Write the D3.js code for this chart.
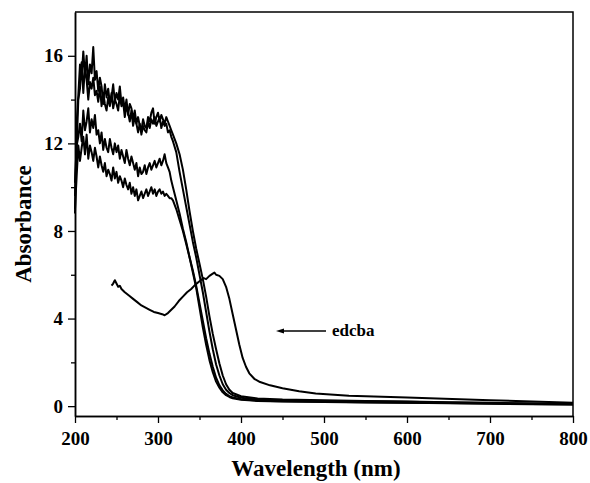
<!DOCTYPE html>
<html>
<head>
<meta charset="utf-8">
<script src="https://cdn.jsdelivr.net/npm/d3@7"></script>
<style>
  html, body { margin: 0; padding: 0; background: #fff; }
  svg { display: block; }
  text { font-family: "Liberation Serif", "Times New Roman", serif; font-weight: bold; fill: #000; }
</style>
</head>
<body>
<svg id="chart" width="590" height="483"></svg>
<script>
// Wavelength grid (nm) shared by spectra a–d
const wavelengths = [
  200, 202, 204, 206, 208, 210, 212, 214, 216, 218,
  220, 222, 224, 226, 228, 230, 232, 234, 236, 238,
  240, 242, 244, 246, 248, 250, 252, 254, 256, 258,
  260, 262, 264, 266, 268, 270, 272, 274, 276, 278,
  280, 282, 284, 286, 288, 290, 292, 294, 296, 298,
  300, 302, 304, 306, 308, 310, 312, 314, 316,
  318, 322, 326, 330, 334, 338, 342, 346, 350, 354,
  358, 362, 366, 370, 374, 378, 382, 386, 390, 400,
  420, 450, 500, 550, 600, 650, 700, 750, 800
];

const absA = [
  8.8, 12.9, 14.2, 15.6, 15.0, 16.2, 15.1, 16.0, 14.7, 15.6,
  15.2, 16.4, 14.9, 15.3, 14.4, 15.0, 14.6, 13.8, 14.7, 14.1,
  14.5, 13.8, 14.1, 14.7, 13.9, 14.3, 14.0, 14.6, 13.8, 14.1,
  13.5, 14.0, 13.3, 13.8, 13.6, 13.1, 13.5, 12.9, 13.2, 12.8,
  12.6, 13.1, 12.8, 12.7, 13.2, 13.0, 13.4, 13.6, 12.9, 13.2,
  13.4, 13.0, 13.3, 13.1, 12.9, 13.2, 13.0, 12.8, 12.6,
  12.4, 12.0, 11.5, 10.8, 9.9, 8.9, 8.0, 7.2, 6.5, 5.8,
  5.0, 4.1, 3.3, 2.6, 1.95, 1.4, 1.0, 0.75, 0.6, 0.45,
  0.35, 0.3, 0.27, 0.24, 0.21, 0.18, 0.15, 0.12, 0.1
];

const absB = [
  9.6, 11.8, 14.0, 14.5, 15.7, 14.3, 15.5, 14.9, 14.0, 14.8,
  14.5, 15.0, 14.2, 14.4, 13.9, 14.6, 13.7, 14.3, 13.8, 13.5,
  14.1, 13.7, 14.3, 13.6, 14.0, 13.8, 13.5, 14.2, 13.7, 13.9,
  13.2, 13.7, 13.4, 13.0, 13.5, 12.8, 13.2, 12.9, 12.5, 12.9,
  12.4, 12.8, 12.6, 12.5, 13.0, 12.7, 13.1, 12.9, 13.2, 12.8,
  13.0, 13.2, 12.7, 13.0, 12.8, 12.9, 12.5, 12.6, 12.3,
  12.1, 11.6, 10.7, 9.9, 9.1, 8.3, 7.5, 6.8, 6.0, 5.2,
  4.3, 3.4, 2.6, 1.9, 1.4, 1.0, 0.75, 0.6, 0.5, 0.38,
  0.3, 0.26, 0.24, 0.22, 0.2, 0.17, 0.14, 0.12, 0.1
];

const absC = [
  10.2, 11.9, 12.3, 12.9, 12.1, 13.5, 12.6, 13.0, 13.6, 12.5,
  13.1, 12.7, 13.3, 12.4, 12.6, 12.0, 12.5, 11.7, 12.2, 11.8,
  11.6, 12.2, 11.8, 11.5, 12.0, 11.6, 11.9, 11.3, 11.7, 11.4,
  11.1, 11.7, 11.3, 11.0, 11.4, 11.1, 10.8, 11.1, 10.5, 10.9,
  10.6, 10.7, 11.0, 10.6, 10.9, 11.1, 10.8, 11.0, 11.2, 10.9,
  11.1, 11.3, 11.0, 11.2, 11.5, 11.1, 10.9, 10.7, 10.3,
  10.0, 9.4, 8.8, 8.1, 7.5, 6.8, 6.2, 5.5, 4.7, 3.9,
  3.1, 2.4, 1.8, 1.3, 0.95, 0.72, 0.56, 0.46, 0.4, 0.32,
  0.25, 0.22, 0.2, 0.18, 0.16, 0.14, 0.12, 0.1, 0.08
];

const absD = [
  9.0, 10.5, 11.9, 11.2, 11.8, 12.3, 11.5, 12.4, 11.3, 11.9,
  11.6, 11.2, 11.8, 11.4, 10.9, 11.4, 11.0, 10.7, 11.1, 10.5,
  10.8, 10.6, 10.3, 10.9, 10.4, 10.7, 10.2, 10.5, 10.3, 10.0,
  10.4, 10.1, 9.9, 10.2, 9.7, 10.0, 9.6, 9.9, 9.4, 9.6,
  9.8, 9.5, 9.7, 9.9, 9.6, 9.8, 10.0, 9.7, 9.9, 9.6,
  9.8, 9.9, 9.7, 9.8, 9.6, 9.7, 9.6, 9.5, 9.5,
  9.4, 9.0, 8.5, 8.0, 7.4, 6.8, 6.1, 5.4, 4.5, 3.6,
  2.8, 2.1, 1.55, 1.12, 0.84, 0.63, 0.5, 0.42, 0.36, 0.29,
  0.24, 0.21, 0.19, 0.17, 0.15, 0.13, 0.11, 0.09, 0.07
];

// Spectrum e: measured from 244 nm, band near 368 nm
const wavelengthsE = [
  244, 246, 248, 250, 252, 254, 256, 260, 265, 270,
  275, 280, 285, 290, 295, 300, 305, 308, 312, 316,
  320, 325, 330, 335, 340, 345, 350, 355, 358, 362,
  366, 368, 370, 374, 378, 382, 386, 390, 394, 398,
  402, 406, 410, 416, 423, 435, 450, 470, 490, 530,
  600, 700, 800
];
const absE = [
  5.5, 5.6, 5.75, 5.6, 5.45, 5.5, 5.35, 5.2, 5.05, 4.9,
  4.75, 4.6, 4.5, 4.4, 4.3, 4.25, 4.2, 4.15, 4.25, 4.4,
  4.55, 4.8, 5.0, 5.2, 5.35, 5.55, 5.7, 5.85, 5.8, 5.95,
  6.05, 6.1, 6.0, 5.95, 5.8, 5.45, 4.9, 4.2, 3.5, 2.8,
  2.2, 1.8, 1.5, 1.25, 1.1, 0.95, 0.82, 0.68, 0.58, 0.47,
  0.4, 0.27, 0.15
];

const xMajorTicks = [200, 300, 400, 500, 600, 700, 800];
const xMinorTicks = [250, 350, 450, 550, 650, 750];
const yMajorTicks = [0, 4, 8, 12, 16];
const yMinorTicks = [2, 6, 10, 14];
const annotationLabel = "edcba";

const svg = d3.select("#chart");
const W = 590, H = 483;
const plot = { left: 75, right: 573, top: 12, bottom: 416 };

svg.append("rect").attr("width", W).attr("height", H).attr("fill", "#fff");

const x = d3.scaleLinear().domain([200, 800]).range([plot.left, plot.right]);
const y = d3.scaleLinear().domain([-0.45, 18]).range([plot.bottom, plot.top]);

// Frame: top and right edges
svg.append("path")
  .attr("d", `M${plot.left},${plot.top}H${plot.right}V${plot.bottom}`)
  .attr("fill", "none").attr("stroke", "#000").attr("stroke-width", 1.5);

// Bottom axis: minor then major ticks
const xAxisG = svg.append("g").attr("transform", `translate(0,${plot.bottom})`);
xAxisG.call(d3.axisBottom(x).tickValues(xMinorTicks).tickSize(4).tickSizeOuter(0).tickFormat(""));
const xMajG = svg.append("g").attr("transform", `translate(0,${plot.bottom})`);
xMajG.call(d3.axisBottom(x).tickValues(xMajorTicks).tickSize(7).tickSizeOuter(0).tickPadding(5).tickFormat(d3.format("d")));

// Left axis
const yAxisG = svg.append("g").attr("transform", `translate(${plot.left},0)`);
yAxisG.call(d3.axisLeft(y).tickValues(yMinorTicks).tickSize(4).tickSizeOuter(0).tickFormat(""));
const yMajG = svg.append("g").attr("transform", `translate(${plot.left},0)`);
yMajG.call(d3.axisLeft(y).tickValues(yMajorTicks).tickSize(7).tickSizeOuter(0).tickPadding(5).tickFormat(d3.format("d")));

svg.selectAll(".domain").attr("stroke", "#000").attr("stroke-width", 1.5);
svg.selectAll(".tick line").attr("stroke", "#000").attr("stroke-width", 1.3);
svg.selectAll(".tick text")
  .attr("font-family", "Liberation Serif, Times New Roman, serif")
  .attr("font-weight", "bold")
  .attr("font-size", 19)
  .attr("fill", "#000");
xMajG.selectAll(".tick text").attr("dy", "0.9em");

// Spectra
const line = d3.line().x(d => x(d[0])).y(d => y(d[1]));
const series = [
  { name: "a", wl: wavelengths, v: absA },
  { name: "b", wl: wavelengths, v: absB },
  { name: "c", wl: wavelengths, v: absC },
  { name: "d", wl: wavelengths, v: absD },
  { name: "e", wl: wavelengthsE, v: absE }
];
svg.append("g").selectAll("path")
  .data(series)
  .join("path")
  .attr("d", s => line(s.wl.map((w, i) => [w, s.v[i]])))
  .attr("fill", "none")
  .attr("stroke", "#000")
  .attr("stroke-width", 2)
  .attr("stroke-linejoin", "round");

// Arrow and series label
const arrowY = 331;
svg.append("line")
  .attr("x1", 281).attr("x2", 326)
  .attr("y1", arrowY).attr("y2", arrowY)
  .attr("stroke", "#000").attr("stroke-width", 1.3);
svg.append("path")
  .attr("d", `M276,${arrowY}L284,${arrowY - 2.5}L284,${arrowY + 2.5}Z`)
  .attr("fill", "#000");
svg.append("text")
  .attr("x", 332).attr("y", arrowY + 5)
  .attr("font-size", 17)
  .text(annotationLabel);

// Axis titles
svg.append("text")
  .attr("x", 316).attr("y", 476)
  .attr("text-anchor", "middle")
  .attr("font-size", 23)
  .text("Wavelength (nm)");
svg.append("text")
  .attr("transform", "translate(31,224) rotate(-90)")
  .attr("text-anchor", "middle")
  .attr("font-size", 23)
  .text("Absorbance");
</script>
</body>
</html>
